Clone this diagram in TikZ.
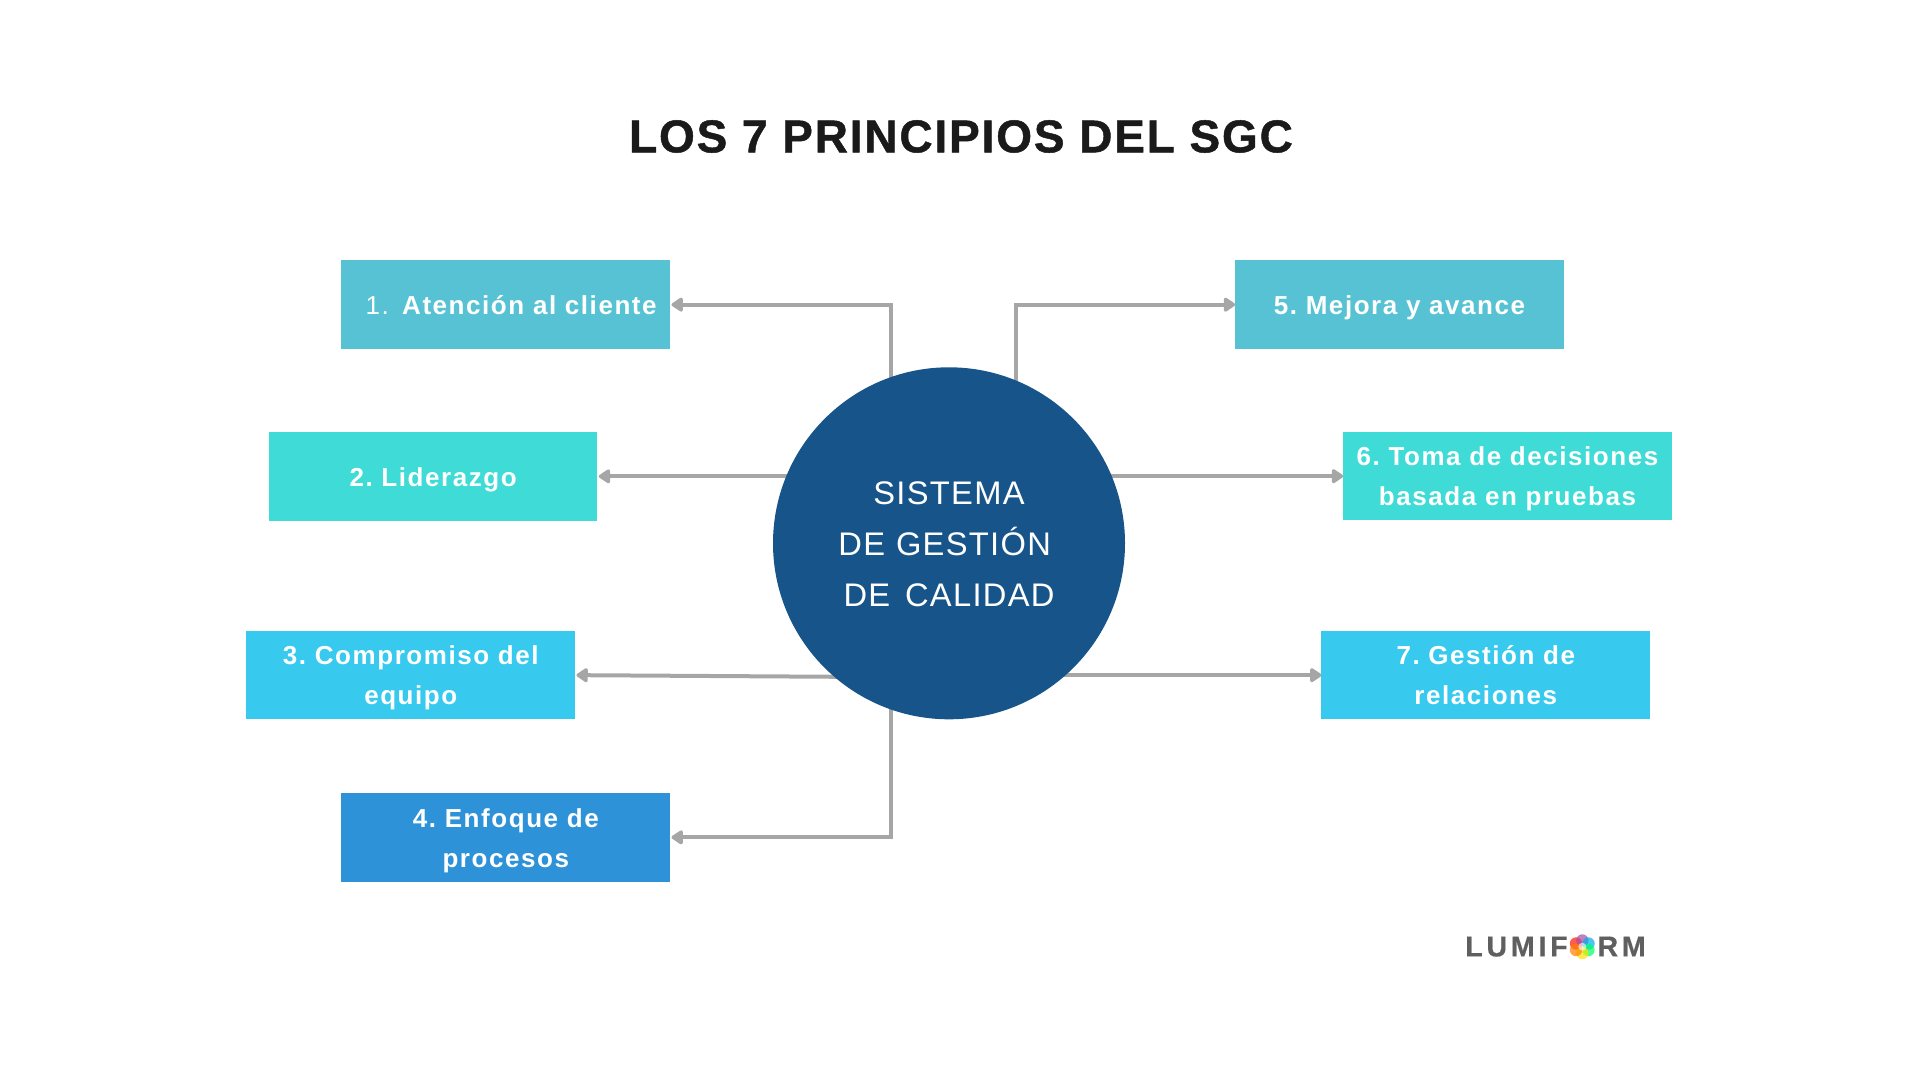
\documentclass[tikz,border=0pt]{standalone}
\usepackage{fontspec}
\usetikzlibrary{arrows.meta,backgrounds}
\setmainfont{Lato}
\frenchspacing
\newfontfamily\titlefont[LetterSpace=4,FakeBold=1]{Liberation Sans}
\newfontfamily\boxfont[LetterSpace=6]{Liberation Sans}
\newfontfamily\centerfont[LetterSpace=4]{Liberation Sans}
\newfontfamily\logofont[LetterSpace=13,FakeBold=0.5]{Liberation Sans}
\newcommand{\boxstrut}{\rule[-7.7pt]{0pt}{30pt}}
\newcommand{\circstrut}{\rule[-9.6pt]{0pt}{38.2pt}}
\definecolor{tealbox}{HTML}{56C2D3}
\definecolor{aquabox}{HTML}{3FDBD6}
\definecolor{skybox}{HTML}{38C9EF}
\definecolor{bluebox}{HTML}{2D92D8}
\definecolor{circlecol}{HTML}{17548A}
\definecolor{linecol}{HTML}{A6A6A6}
\definecolor{titlecol}{HTML}{1A1A1A}
\definecolor{logocol}{HTML}{5F5F5F}
\tikzset{
  principle/.style={text width=246.5pt,minimum height=66.4pt,inner sep=0pt,outer sep=0pt,align=center,
    text=white,font=\boxfont\bfseries\fontsize{19.5}{30}\selectfont,
    execute at begin node=\boxstrut,execute at end node=\boxstrut},
  flecha/.style={draw=linecol,line width=3pt,-{Triangle[length=9.5pt,width=12pt,round,fill=linecol]}},
  petal/.style={fill opacity=0.7,radius=6.2}
}
\begin{document}
\begin{tikzpicture}[x=0.75pt,y=0.75pt,yscale=-1,xscale=1]
\useasboundingbox (0,0) rectangle (1920,1080);

% Center circle
\node (sgc) at (949,543.3) [circle,fill=circlecol,text width=186.7pt,minimum size=264pt,inner sep=0pt,outer sep=0pt,align=center,text=white,
  font=\centerfont\fontsize{24.5}{38.25}\selectfont,execute at begin node=\circstrut,execute at end node=\circstrut]
  {SISTEMA\\DE GESTIÓN\rule{6.5pt}{0pt}\\DE\hspace{3pt} CALIDAD};

% Boxes
\node (atencion) at (505.8,304.65) [principle,fill=tealbox] {\hspace*{8pt}{\mdseries 1.}\hspace{10pt}Atención al cliente};
\node (liderazgo) at (433.1,476.35) [principle,fill=aquabox] {2. Liderazgo};
\node (compromiso) at (410.8,675.15) [principle,fill=skybox] {3. Compromiso del\\equipo};
\node (enfoque) at (505.8,837.35) [principle,fill=bluebox] {4. Enfoque de\\procesos};
\node (mejora) at (1399.5,304.65) [principle,fill=tealbox] {5. Mejora y avance};
\node (decisiones) at (1507.5,476.2) [principle,fill=aquabox] {6. Toma de decisiones\\basada en pruebas};
\node (relaciones) at (1485.8,675.15) [principle,fill=skybox] {7. Gestión de\\relaciones};

% Arrows
\coordinate (salida3) at (949,677.5);
\begin{pgfonlayer}{background}
\draw [flecha,shorten >=1pt] ([xshift=-43.5pt]sgc.center) |- (atencion.east);
\draw [flecha,shorten >=1pt] (sgc.center |- liderazgo.east) -- (liderazgo.east);
\draw [flecha,shorten >=1pt] (salida3) -- (compromiso.east);
\draw [flecha,shorten >=1pt] ([xshift=-43.5pt]sgc.center) |- (enfoque.east);
\draw [flecha] ([xshift=50.25pt]sgc.center) |- (mejora.west);
\draw [flecha] (sgc.center |- decisiones.west) -- (decisiones.west);
\draw [flecha] (sgc.center |- relaciones.west) -- (relaciones.west);
\end{pgfonlayer}

% Title
\node (title) at (961,136.5) [text=titlecol,font=\titlefont\bfseries\fontsize{34.5}{40}\selectfont] {LOS 7 PRINCIPIOS DEL SGC};

% Logo
\node (logo) at (1555.5,946.5) [text=logocol,inner sep=0pt,font=\logofont\bfseries\fontsize{21.5}{24}\selectfont] {LUMIFORM};
\fill [white] (1582.3,946.7) circle [radius=13];
\fill [petal,red!80!orange] (1576,943.5) circle;
\fill [petal,violet!70!white] (1582.3,940.5) circle;
\fill [petal,cyan] (1588.5,943.5) circle;
\fill [petal,green!60!cyan] (1588.5,950) circle;
\fill [petal,yellow!85!orange] (1582.3,953) circle;
\fill [petal,orange] (1576,950) circle;
\fill [white,opacity=0.6] (1582.3,946.7) circle [radius=4];

\end{tikzpicture}
\end{document}
